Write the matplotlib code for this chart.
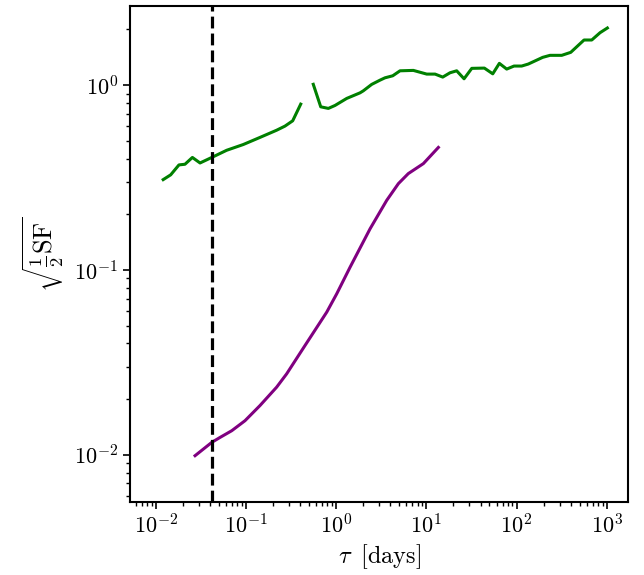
import numpy as np
import matplotlib
matplotlib.use("Agg")
import matplotlib.pyplot as plt

plt.rcParams.update({
    "font.family": "serif",
    "font.serif": ["cmr10", "DejaVu Serif"],
    "mathtext.fontset": "cm",
    "axes.formatter.use_mathtext": True,
    "axes.unicode_minus": False,
    "font.size": 16,
})

# Green series (two segments separated by a gap)
green_tau_1 = [0.0121, 0.01466, 0.0181, 0.0211, 0.0255, 0.0310, 0.0418, 0.0612,
               0.0935, 0.143, 0.219, 0.271, 0.330, 0.405]
green_sf_1 = [0.308, 0.327, 0.370, 0.373, 0.406, 0.379, 0.406, 0.444,
              0.477, 0.521, 0.570, 0.600, 0.641, 0.789]
green_tau_2 = [0.558, 0.675, 0.820, 0.972, 1.31, 1.84, 2.00, 2.48, 3.07, 3.48, 4.24,
               5.11, 7.18, 10.1, 12.5, 15.2, 18.3, 21.7, 26.2, 31.9, 44.0, 54.5,
               64.5, 77.8, 93.8, 114, 135, 195, 235, 317, 399, 560, 682, 843, 1016]
green_sf_2 = [1.01, 0.763, 0.748, 0.776, 0.847, 0.908, 0.931, 1.009, 1.064, 1.095, 1.123,
              1.195, 1.201, 1.147, 1.147, 1.105, 1.166, 1.195, 1.082, 1.232, 1.236, 1.151,
              1.311, 1.221, 1.268, 1.268, 1.300, 1.413, 1.449, 1.449, 1.504, 1.754, 1.754,
              1.921, 2.037]

# Purple series
purple_tau = [0.0273, 0.0418, 0.0516, 0.0697, 0.0977, 0.143, 0.219, 0.283, 0.452,
              0.787, 1.016, 1.43, 2.38, 3.64, 4.90, 6.31, 9.27, 13.6]
purple_sf = [0.00988, 0.01166, 0.0124, 0.01349, 0.01528, 0.01844, 0.0232, 0.0274, 0.0390,
             0.0591, 0.0743, 0.1036, 0.167, 0.238, 0.293, 0.332, 0.376, 0.460]

vline_tau = 1.0 / 24.0

fig = plt.figure(figsize=(6.44, 5.75), dpi=100)
ax = fig.add_axes([0.2019, 0.1270, 0.7733, 0.8626])

ax.plot(green_tau_1, green_sf_1, color="green", lw=2.2)
ax.plot(green_tau_2, green_sf_2, color="green", lw=2.2)
ax.plot(purple_tau, purple_sf, color="purple", lw=2.2)
ax.axvline(vline_tau, color="black", ls="--", lw=2.3)

ax.set_xscale("log")
ax.set_yscale("log")
ax.set_xlim(5.19e-3, 1722)
ax.set_ylim(5.55e-3, 2.68)

ax.set_xlabel(r"$\tau\,$ [days]", fontsize=17.5, labelpad=3)
ax.set_ylabel(r"$\sqrt{\frac{1}{2}\mathrm{SF}}$", fontsize=19, labelpad=6)

for s in ax.spines.values():
    s.set_linewidth(1.5)
ax.tick_params(which="major", length=5, width=1.2, labelsize=16)
ax.tick_params(which="minor", length=3, width=1.0)

fig.savefig("out.png", dpi=100)
